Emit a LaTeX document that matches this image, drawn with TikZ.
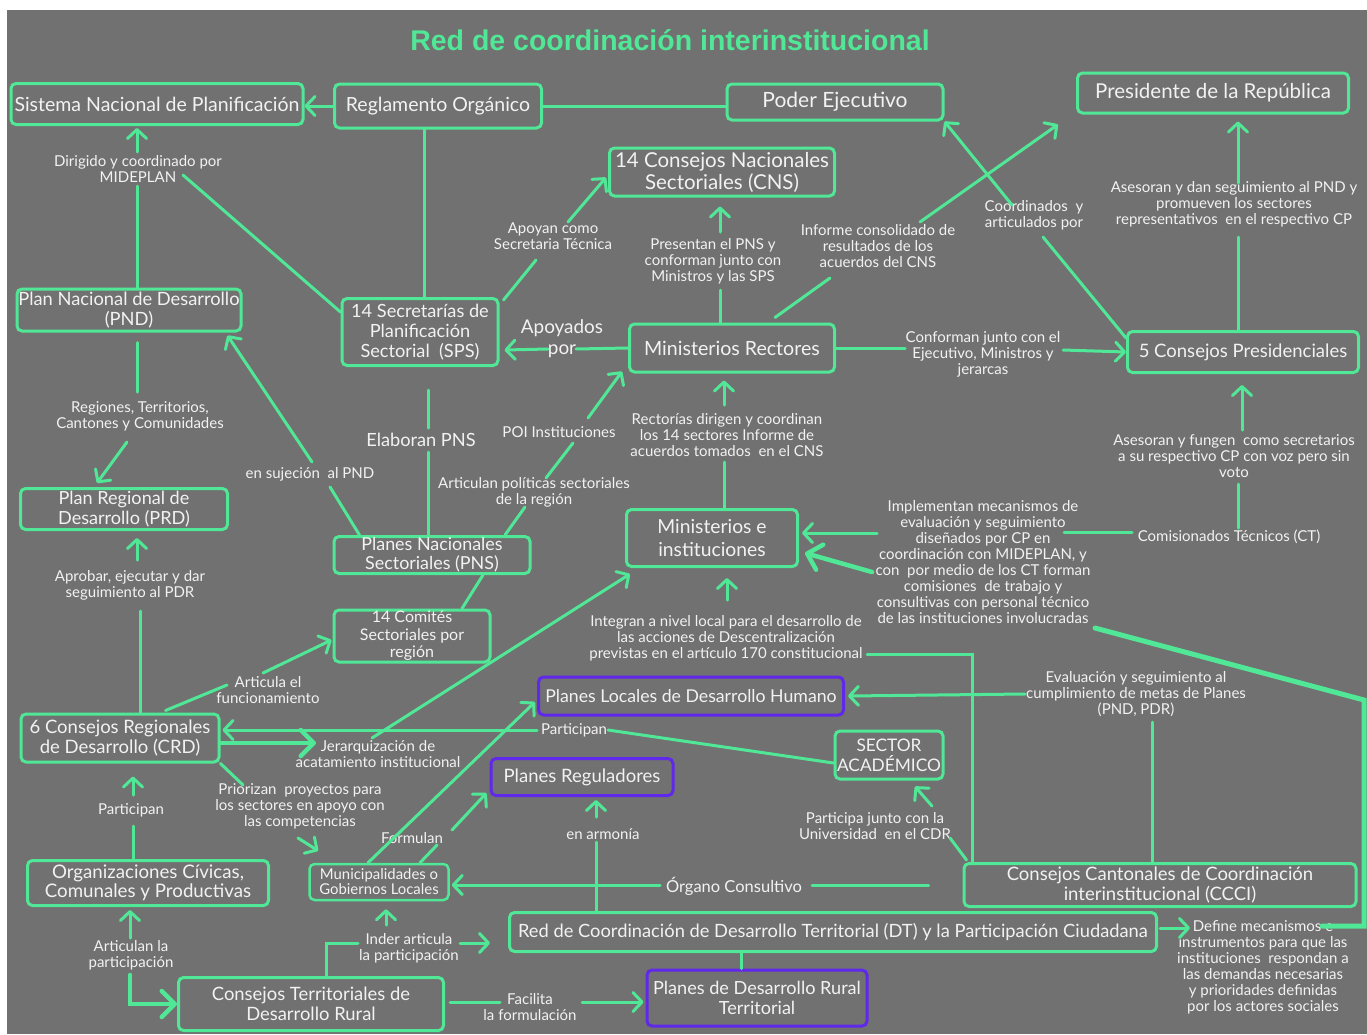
\documentclass[tikz,border=0pt]{standalone}
\usepackage{fontspec}
\setmainfont{Lato}
\newfontfamily\titlefont{Liberation Sans}
\usetikzlibrary{arrows.meta,positioning,calc}
\definecolor{fondo}{RGB}{113,113,113}
\definecolor{menta}{RGB}{80,232,150}
\definecolor{violeta}{RGB}{95,40,235}
\definecolor{texto}{RGB}{242,242,242}

\begin{document}
\begin{tikzpicture}[x=1pt,y=-1pt,
  caja/.style={draw=menta,line width=3pt,rounded corners=5pt,text=texto,align=center,
               inner sep=1pt,font=\fontsize{18.5}{20}\selectfont},
  plan/.style={caja,draw=violeta},
  etq/.style={text=texto,align=center,inner sep=1pt,font=\fontsize{15}{16}\selectfont},
  con/.style={draw=menta,line width=3pt,line cap=round},
  arr/.style={con,-{Straight Barb[length=9pt,width=19pt,round]}},
  grueso/.style={con,line width=5pt},
  garr/.style={con,line width=4.5pt,-{Straight Barb[length=13pt,width=26pt,round]}}
]
\useasboundingbox (0,0) rectangle (1367,1034);
\fill[white] (0,0) rectangle (1367,1034);
\fill[fondo] (7,10) rectangle (1367,1034);

\node[text=menta,font=\titlefont\bfseries\fontsize{28.5}{30}\selectfont] (titulo) at (670,40) {Red de coordinación interinstitucional};

\node[caja,minimum width=292pt,minimum height=41pt,font=\fontsize{19.5}{22}\selectfont] (snp) at (157,104) {Sistema Nacional de Planificación};
\node[caja,minimum width=207pt,minimum height=44pt,font=\fontsize{19.5}{22}\selectfont] (ro) at (438,106) {Reglamento Orgánico};
\node[caja,minimum width=216pt,minimum height=36pt,font=\fontsize{21}{22}\selectfont] (pe) at (835,102) {Poder Ejecutivo};
\node[caja,minimum width=271pt,minimum height=40pt,font=\fontsize{20.5}{22}\selectfont] (pr) at (1213,93) {Presidente de la República};
\node[caja,minimum width=225pt,minimum height=48pt,font=\fontsize{20.5}{22}\selectfont] (cns) at (722,172) {14 Consejos Nacionales\\Sectoriales (CNS)};
\node[caja,minimum width=224pt,minimum height=42pt,font=\fontsize{18.3}{20}\selectfont] (pnd) at (129,310) {Plan Nacional de Desarrollo\\(PND)};
\node[caja,minimum width=156pt,minimum height=67pt,font=\fontsize{18.2}{20}\selectfont] (sps) at (420,332) {14 Secretarías de\\Planificación\\Sectorial\ \ (SPS)};
\node[caja,minimum width=205pt,minimum height=48pt,font=\fontsize{19.6}{22}\selectfont] (mr) at (732,348) {Ministerios Rectores};
\node[caja,minimum width=231pt,minimum height=41pt] (cp) at (1243,352) {5 Consejos Presidenciales};
\node[caja,minimum width=207pt,minimum height=41pt,font=\fontsize{18.1}{19.5}\selectfont] (prd) at (124,509) {Plan Regional de\\Desarrollo (PRD)};
\node[caja,minimum width=196pt,minimum height=37pt,font=\fontsize{17.9}{19}\selectfont] (pns) at (432,555) {Planes Nacionales\\Sectoriales (PNS)};
\node[caja,minimum width=171pt,minimum height=57pt,font=\fontsize{19.3}{23}\selectfont] (mi) at (712,538) {Ministerios e\\instituciones};
\node[caja,minimum width=156pt,minimum height=52pt,font=\fontsize{16}{17.5}\selectfont] (csr) at (412,636) {14 Comités\\Sectoriales por\\región};
\node[caja,minimum width=198pt,minimum height=48pt] (crd) at (120,738) {6 Consejos Regionales\\de Desarrollo (CRD)};
\node[plan,minimum width=305pt,minimum height=38pt,font=\fontsize{17.7}{20}\selectfont] (pldh) at (691,696) {Planes Locales de Desarrollo Humano};
\node[caja,minimum width=108pt,minimum height=48pt,font=\fontsize{17.3}{20}\selectfont] (sa) at (889,755) {SECTOR\\ACADÉMICO};
\node[plan,minimum width=182pt,minimum height=37pt] (prg) at (582,777) {Planes Reguladores};
\node[caja,minimum width=241pt,minimum height=45pt,font=\fontsize{18.7}{19.5}\selectfont] (occ) at (148,883) {Organizaciones Cívicas,\\Comunales y Productivas};
\node[caja,minimum width=139pt,minimum height=36pt,line width=2.5pt,font=\fontsize{14.9}{15}\selectfont] (mgl) at (379,882) {Municipalidades o\\Gobiernos Locales};
\node[caja,minimum width=392pt,minimum height=43pt] (ccci) at (1160,885) {Consejos Cantonales de Coordinación\\interinstitucional (CCCI)};
\node[caja,minimum width=647pt,minimum height=39pt,font=\fontsize{18.3}{20}\selectfont] (rdt) at (833,932) {Red de Coordinación de Desarrollo Territorial (DT) y la Participación Ciudadana};
\node[caja,minimum width=265pt,minimum height=53pt,font=\fontsize{18.4}{20}\selectfont] (ctdr) at (311,1004) {Consejos Territoriales de\\Desarrollo Rural};
\node[plan,minimum width=220pt,minimum height=56pt,font=\fontsize{18.1}{20}\selectfont] (pdrt) at (757,998) {Planes de Desarrollo Rural\\Territorial};

\node[etq] (ldir) at (138,169) {Dirigido y coordinado por\\MIDEPLAN};
\node[etq] (lreg) at (140,416) {Regiones, Territorios,\\Cantones y Comunidades};
\node[etq] (lapr) at (130,585) {Aprobar, ejecutar y dar\\seguimiento al PDR};
\node[etq] (lpar1) at (131,810) {Participan};
\node[etq] (lartp) at (131,955) {Articulan la\\participación};
\node[etq] (lapo) at (553,236) {Apoyan como\\Secretaria Técnica};
\node[etq] (lpre) at (713,261) {Presentan el PNS y\\conforman junto con\\Ministros y las SPS};
\node[etq] (linf) at (878,246) {Informe consolidado de\\resultados de los\\acuerdos del CNS};
\node[etq] (lcoo) at (1034,215) {Coordinados\ \ y\\articulados por};
\node[etq] (lase) at (1234,204) {Asesoran y dan seguimiento al PND y\\promueven los sectores\\representativos\ \ en el respectivo CP};
\node[etq,font=\fontsize{18.9}{21}\selectfont] (lapy) at (562,339) {Apoyados\\por};
\node[etq] (lcon) at (983,354) {Conforman junto con el\\Ejecutivo, Ministros y\\jerarcas};
\node[etq,font=\fontsize{18.2}{19}\selectfont] (lela) at (421,440) {Elaboran PNS};
\node[etq] (lsuj) at (310,474) {en sujeción\ \ al PND};
\node[etq] (lpoi) at (559,432) {POI Instituciones};
\node[etq] (lartpol) at (534,492) {Articulan políticas sectoriales\\de la región};
\node[etq] (lrec) at (727,435) {Rectorías dirigen y coordinan\\los 14 sectores Informe de\\acuerdos tomados\ \ en el CNS};
\node[etq] (lasf) at (1234,456) {Asesoran y fungen\ \ como secretarios\\a su respectivo CP con voz pero sin\\voto};
\node[etq] (lct) at (1229,537) {Comisionados Técnicos (CT)};
\node[etq] (limp) at (983,562) {Implementan mecanismos de\\evaluación y seguimiento\\diseñados por CP en\\coordinación con MIDEPLAN, y\\con\ \ por medio de los CT forman\\comisiones\ \ de trabajo y\\consultivas con personal técnico\\de las instituciones involucradas};
\node[etq] (lint) at (726,638) {Integran a nivel local para el desarrollo de\\las acciones de Descentralización\\previstas en el artículo 170 constitucional};
\node[etq] (lartf) at (268,690) {Articula el\\funcionamiento};
\node[etq] (ljer) at (378,754) {Jerarquización de\\acatamiento institucional};
\node[etq] (lpar2) at (574,730) {Participan};
\node[etq] (leva) at (1136,694) {Evaluación y seguimiento al\\cumplimiento de metas de Planes\\(PND, PDR)};
\node[etq] (lpri) at (300,806) {Priorizan\ \ proyectos para\\los sectores en apoyo con\\las competencias};
\node[etq] (lfor) at (412,838) {Formulan};
\node[etq] (larm) at (603,834) {en armonía};
\node[etq] (lpju) at (875,826) {Participa junto con la\\Universidad\ \ en el CDR};
\node[etq,font=\fontsize{16.5}{18}\selectfont] (lorg) at (734,886) {Órgano Consultivo};
\node[etq] (lind) at (409,948) {Inder articula\\la participación};
\node[etq] (lfac) at (530,1007) {Facilita\\la formulación};
\node[etq] (ldef) at (1263,967) {Define mecanismos e\\instrumentos para que las\\instituciones\ \ respondan a\\las demandas necesarias\\y prioridades definidas\\por los actores sociales};

\draw[arr] (ro.west) -- (ro.west -| snp.east);
\draw[con] (ro.east) -- (ro.east -| pe.west);
\draw[con] ([xshift=-14pt]ro.south) -- ([xshift=-14pt]ro.south |- sps.north);
\draw[con] ($(ldir)+(-1,17)$) -- ($(pnd.north)+(8,0)$);
\draw[arr] ($(ldir)+(-1,-17)$) -- ($(snp.south)+(-20,2)$);
\draw[con] ($(sps.north west)+(0,15)$) -- ($(ldir)+(45,6)$);
\draw[con] ($(sps.north east)+(4,3)$) -- ($(lapo)+(-17,24)$);
\draw[arr] ($(lapo)+(15,-14)$) -- ($(cns.south west)+(-2,-20)$);
\draw[con] ($(mr.north)+(-12,0)$) -- ($(lpre)+(7,29)$);
\draw[arr] ($(lpre)+(7,-29)$) -- ($(cns.south)+(-2,9)$);
\draw[con] ($(mr.north)+(43,-5)$) -- ($(linf)+(-48,32)$);
\draw[arr] ($(linf)+(42,-24)$) -- ($(pr.south west)+(-18,10)$);
\draw[con] ($(cp.north west)+(0,8)$) -- ($(lcoo)+(9,22)$);
\draw[arr] ($(lcoo)+(-22,-10)$) -- (pe.south east);
\draw[con] ($(cp.north)+(-5,0)$) -- ($(lase)+(4,33)$);
\draw[arr] ($(lase)+(4,-21)$) -- ($(pr.south)+(25,7)$);
\draw[con] (mr.east) -- ($(lcon)+(-78,-6)$);
\draw[arr] ($(lcon)+(80,-4)$) -- (cp.west);
\draw[con] (mr.west) -- ($(lapy)+(14,10)$);
\draw[arr] ($(lapy)+(-14,10)$) -- ($(sps.east)+(5,18)$);
\draw[con] ($(sps.south)+(8,23)$) -- ($(lela)+(7,-12)$);
\draw[con] ($(lela)+(7,12)$) -- ($(pns.north)+(-4,0)$);
\draw[con] ($(pns.north west)+(27,0)$) -- ($(lsuj)+(20,13)$);
\draw[arr] ($(lsuj)+(2,-12)$) -- ($(pnd.south east)+(-15,3)$);
\draw[con] ($(csr.north)+(50,0)$) -- ($(pns.south)+(51,0)$);
\draw[con] ($(pns.north)+(73,0)$) -- ($(lartpol)+(-9,15)$);
\draw[con] ($(lartpol)+(12,-14)$) -- ($(lpoi)+(14,11)$);
\draw[arr] ($(lpoi)+(29,-14)$) -- ($(mr.south west)+(-6,-2)$);
\draw[con] ($(mi.north)+(12,0)$) -- ($(lrec)+(-3,27)$);
\draw[arr] ($(lrec)+(-3,-30)$) -- ($(mr.south)+(-8,7)$);
\draw[con] ($(lct)+(9,-9)$) -- ($(lasf)+(4,28)$);
\draw[arr] ($(lasf)+(8,-26)$) -- ($(cp.south)+(-1,11)$);
\draw[con] ($(lct)+(-97,-5)$) -- ($(limp)+(81,-30)$);
\draw[arr] ($(limp)+(-106,-29)$) -- ($(mi.east)+(3,-5)$);
\draw[grueso] ($(ldef)+(59,-41)$) -| ($(limp)+(381,138)$) -- ($(limp)+(112,66)$);
\draw[garr] ($(limp)+(-111,10)$) -- ($(mi.east)+(6,15)$);
\draw[arr] ($(rdt.east)+(2,-4)$) -- ($(ldef)+(-73,-39)$);
\draw[con] ($(ccci.north)+(-8,0)$) -- ($(leva)+(16,28)$);
\draw[arr] ($(leva)+(-111,0)$) -- ($(pldh.east)+(3,0)$);
\draw[con] ($(ccci.north west)+(10,0)$) |- ($(lint)+(141,16)$);
\draw[arr] ($(lint)+(1,-38)$) -- ($(mi.south)+(15,10)$);
\draw[con] ($(ccci.north west)+(4,-2)$) -- ($(lpju)+(75,12)$);
\draw[arr] ($(lpju)+(57,-20)$) -- ($(sa.south)+(26,6)$);
\draw[con] ($(ccci.west)+(-34,0)$) -- ($(lorg)+(78,-1)$);
\draw[arr] ($(lorg)+(-74,-1)$) -- ($(mgl.east)+(2,3)$);
\draw[con] ($(rdt.north west)+(88,0)$) -- ($(larm)+(-7,8)$);
\draw[arr] ($(larm)+(-7,-17)$) -- ($(prg.south)+(14,3)$);
\draw[con] ($(rdt.south)+(-92,0)$) -- ($(pdrt.north)+(-16,0)$);
\draw[con] ($(ctdr.east)+(5,-2)$) -- ($(lfac)+(-30,-5)$);
\draw[arr] ($(lfac)+(52,-5)$) -- ($(pdrt.west)+(-2,4)$);
\draw[con] ($(ctdr.north)+(15,0)$) |- ($(lind)+(-51,-5)$);
\draw[arr] ($(lind)+(-23,-23)$) -- ($(mgl.south)+(7,8)$);
\draw[arr] ($(lind)+(51,-5)$) -- ($(rdt.west)+(-18,11)$);
\draw[con] ($(occ.north)+(-15,0)$) -- ($(lpar1)+(2,16)$);
\draw[arr] ($(lpar1)+(2,-15)$) -- ($(crd.south)+(13,13)$);
\draw[arr] ($(lartp)+(-1,-17)$) -- ($(occ.south)+(-18,3)$);
\draw[garr] ($(lartp)+(-1,20)$) |- (ctdr.west);
\draw[con] ($(crd.north)+(20,0)$) -- ($(lapr)+(10,26)$);
\draw[arr] ($(lapr)+(7,-25)$) -- ($(prd.south)+(13,7)$);
\draw[con] ($(pnd.south)+(8,10)$) -- ($(lreg)+(-3,-24)$);
\draw[arr] ($(lreg)+(-13,26)$) -- ($(prd.north)+(-27,-4)$);
\draw[con] ($(crd.north east)+(-55,-2)$) -- ($(lartf)+(-41,-5)$);
\draw[arr] ($(lartf)+(-5,-17)$) -- ($(csr.west)+(-1,4)$);
\draw[garr] ($(crd.east)+(0,5)$) -- ($(ljer)+(-62,-11)$);
\draw[arr] ($(ljer)+(-6,-16)$) -- ($(mi.south west)+(5,6)$);
\draw[con] ($(sa.west)+(0,8)$) -- ($(lpar2)+(34,0)$);
\draw[arr] ($(lpar2)+(-37,0)$) -- ($(crd.east)+(2,-8)$);
\draw[con] (crd.south east) -- ($(lpri)+(-57,-21)$);
\draw[arr] ($(lpri)+(-2,32)$) -- ($(mgl.north west)+(10,-12)$);
\draw[arr] ($(mgl.north)+(-11,0)$) -- ($(pldh.west)+(-2,6)$);
\draw[con] ($(mgl.north)+(41,0)$) -- ($(lfor)+(25,7)$);
\draw[arr] ($(lfor)+(40,-8)$) -- ($(prg.south west)+(-3,-4)$);
\end{tikzpicture}
\end{document}
